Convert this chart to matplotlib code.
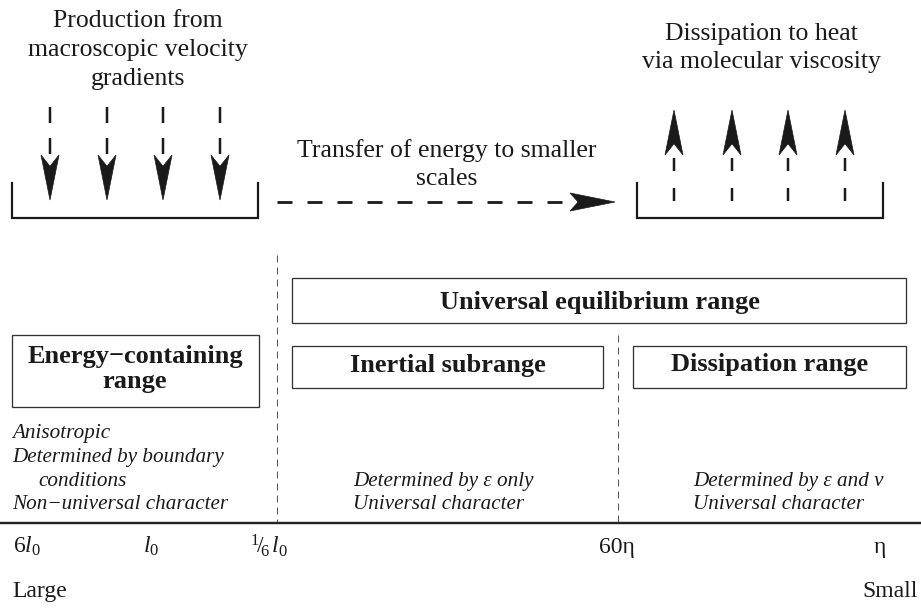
import matplotlib
matplotlib.use("Agg")
import matplotlib.pyplot as plt
from matplotlib.patches import Rectangle, Polygon

# ---------------- text content ----------------
production_lines = ["Production from", "macroscopic velocity", "gradients"]
dissipation_lines = ["Dissipation to heat", "via molecular viscosity"]
transfer_lines = ["Transfer of energy to smaller", "scales"]
universal_label = "Universal equilibrium range"
energy_label = ["Energy\u2212containing", "range"]
inertial_label = "Inertial subrange"
dissip_label = "Dissipation range"
energy_notes = ["Anisotropic", "Determined by boundary", "conditions",
                "Non\u2212universal character"]
inertial_notes = ["Determined by \u03b5 only", "Universal character"]
dissip_notes = ["Determined by \u03b5 and \u03bd", "Universal character"]
scale_ticks = [r"$6l_0$", r"$l_0$", r"$^1\!/\!_6\,l_0$", "60\u03b7", "\u03b7"]
end_labels = ["Large", "Small"]

# ---------------- layout (pixels) ----------------
W, H = 921, 608
down_arrow_x = [50, 107, 163, 220]
up_arrow_x = [674, 732, 788, 845]

plt.rcParams['mathtext.fontset'] = 'custom'
plt.rcParams['mathtext.rm'] = 'Liberation Serif'
plt.rcParams['mathtext.it'] = 'Liberation Serif:italic'
plt.rcParams['lines.scale_dashes'] = False

SERIF = 'Liberation Serif'
INK = '#1a1a1a'

fig = plt.figure(figsize=(W / 100, H / 100), dpi=100)
ax = fig.add_axes([0, 0, 1, 1])
ax.set_xlim(0, W)
ax.set_ylim(H, 0)
ax.axis('off')

PX = 0.72  # points per pixel


def head(tip_x, tip_y, dx, dy, length, width, notch):
    """stealth arrowhead; (dx,dy) unit direction of travel"""
    px, py = -dy, dx
    bx, by = tip_x - dx * length, tip_y - dy * length
    nx, ny = tip_x - dx * length * notch, tip_y - dy * length * notch
    pts = [(tip_x, tip_y),
           (bx + px * width / 2, by + py * width / 2),
           (nx, ny),
           (bx - px * width / 2, by - py * width / 2)]
    ax.add_patch(Polygon(pts, closed=True, facecolor=INK, edgecolor=INK,
                         lw=0.5, joinstyle='miter'))


# ---------------- top: production ----------------
for i, line in enumerate(production_lines):
    ax.text(138, 27 + 29 * i, line, ha='center', va='baseline',
            fontsize=18.5, family=SERIF, color=INK)
for x in down_arrow_x:
    ax.plot([x, x], [107, 160], color=INK, lw=2.5 * PX,
            dashes=(16 * PX, 15 * PX), solid_capstyle='butt')
    head(x, 200, 0, 1, 45, 18, 0.75)
ax.plot([12, 12, 258, 258], [183, 218, 218, 183], color=INK, lw=2.2 * PX,
        solid_joinstyle='miter')

# ---------------- top: dissipation ----------------
for i, line in enumerate(dissipation_lines):
    ax.text(761, 40 + 28 * i, line, ha='center', va='baseline',
            fontsize=18.5, family=SERIF, color=INK)
for x in up_arrow_x:
    ax.plot([x, x], [158, 203], color=INK, lw=2.5 * PX,
            dashes=(13 * PX, 17 * PX), solid_capstyle='butt')
    head(x, 110, 0, -1, 45, 18, 0.75)
ax.plot([637, 637, 883, 883], [183, 218, 218, 183], color=INK, lw=2.2 * PX,
        solid_joinstyle='miter')

# ---------------- transfer arrow ----------------
for i, line in enumerate(transfer_lines):
    ax.text(447, 157 + 28 * i, line, ha='center', va='baseline',
            fontsize=18.5, family=SERIF, color=INK)
ax.plot([277, 578], [202, 202], color=INK, lw=2.8 * PX,
        dashes=(15 * PX, 15 * PX), solid_capstyle='butt')
head(615, 202, 1, 0, 45, 18, 0.82)

# ---------------- range boxes ----------------
box_kw = dict(fill=False, edgecolor='#333333', lw=1.3 * PX)
ax.add_patch(Rectangle((292, 278), 614, 45, **box_kw))
ax.add_patch(Rectangle((12, 335), 247, 72, **box_kw))
ax.add_patch(Rectangle((292, 346), 311, 42, **box_kw))
ax.add_patch(Rectangle((633, 346), 273, 42, **box_kw))

bold = dict(ha='center', va='baseline', fontsize=19, family=SERIF,
            weight='bold', color=INK)
ax.text(600, 309, universal_label, **bold)
ax.text(135, 363, energy_label[0], **bold)
ax.text(135, 388, energy_label[1], **bold)
ax.text(448, 372, inertial_label, **bold)
ax.text(770, 371, dissip_label, **bold)

# ---------------- dashed separators ----------------
sep_kw = dict(color='#555555', lw=1.0 * PX, dashes=(7 * PX, 5 * PX))
ax.plot([277, 277], [255, 523], **sep_kw)
ax.plot([618, 618], [335, 523], **sep_kw)

# ---------------- italic notes ----------------
ital = dict(ha='left', va='baseline', fontsize=15.2, family=SERIF,
            style='italic', color=INK)
note_y = [438, 462, 486, 509]
for i, line in enumerate(energy_notes):
    ax.text(38 if i == 2 else 12, note_y[i], line, **ital)
for i, line in enumerate(inertial_notes):
    ax.text(353, note_y[2 + i], line, **ital)
for i, line in enumerate(dissip_notes):
    ax.text(693, note_y[2 + i], line, **ital)

# ---------------- scale axis ----------------
ax.plot([0, W], [523, 523], color='#222222', lw=2.4 * PX)
tick_x = [13, 143, 250, 617, 880]
tick_ha = ['left', 'left', 'left', 'center', 'center']
for x, lab, ha in zip(tick_x, scale_ticks, tick_ha):
    ax.text(x, 553, lab, ha=ha, va='baseline', fontsize=17, family=SERIF,
            color=INK)
ax.text(12, 597, end_labels[0], ha='left', va='baseline', fontsize=17,
        family=SERIF, color=INK)
ax.text(918, 597, end_labels[1], ha='right', va='baseline', fontsize=17,
        family=SERIF, color=INK)

fig.savefig('out.png', dpi=100)
